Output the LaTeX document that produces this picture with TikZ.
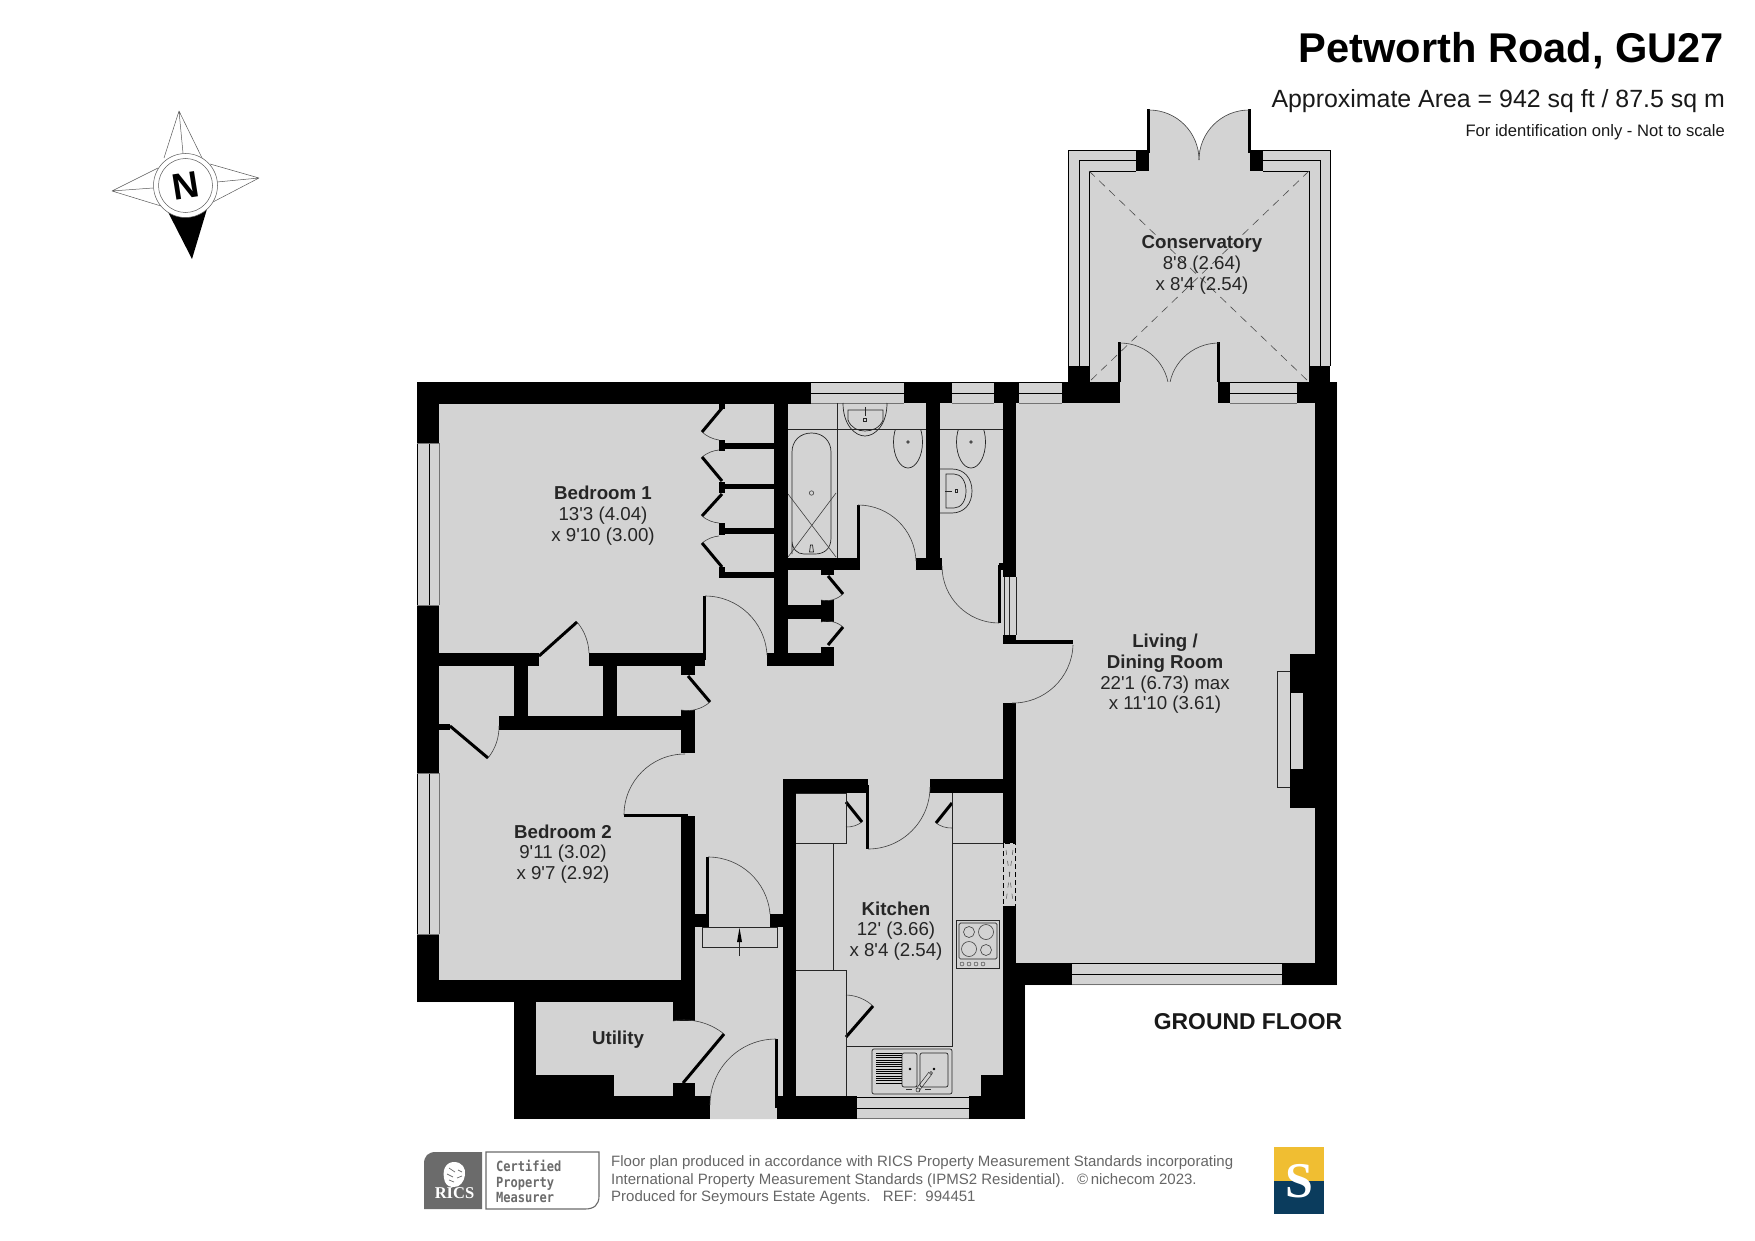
\documentclass[tikz,border=0pt]{standalone}
\usepackage{fontspec}
\setmainfont{Liberation Sans}[Ligatures=TeXOff]
\newfontfamily\monof{DejaVu Sans Mono}[FakeStretch=0.86]
\newfontfamily\seriff{Liberation Serif}
\definecolor{floorgrey}{HTML}{D3D3D3}
\definecolor{logogrey}{HTML}{6B6B6B}
\definecolor{notegrey}{HTML}{666666}
\definecolor{syellow}{HTML}{F0BE32}
\definecolor{snavy}{HTML}{0B3C5D}
\tikzset{
  wall/.style={fill=black},
  floorfill/.style={fill=floorgrey},
  leaf/.style={line width=3pt,black},
  swing/.style={line width=0.6pt,black!75},
  fit/.style={line width=0.7pt,black!85},
  glass/.style={line width=0.8pt,black},
  roomtext/.style={align=center,inner sep=0pt,font=\fontsize{18.7}{20.7}\selectfont,text=black!85},
  star/.style={line width=0.5pt,black!65},
  note/.style={anchor=base west,inner sep=0pt,font=\fontsize{15}{17}\selectfont,text=notegrey},
  certtext/.style={anchor=base west,inner sep=0pt,font=\monof\bfseries\fontsize{14}{16}\selectfont,text=logogrey}
}
\newcommand\wl[4]{\fill[wall] (#1,#2) rectangle (#3,#4);}
\newcommand\winh[3]{% x1 x2 y1 (height 22)
  \fill[floorfill] (#1,#3) rectangle (#2,#3+21);
  \draw[glass] (#1,#3) -- (#2,#3) (#1,#3+11) -- (#2,#3+11);
  \draw[line width=0.5pt,black!55] (#1,#3+21) -- (#2,#3+21);}
\newcommand\winv[2]{% y1 y2 on the west wall
  \fill[floorfill] (417,#1) rectangle (439,#2);
  \draw[glass] (417,#1) -- (417,#2) (429,#1) -- (429,#2);
  \draw[line width=0.5pt,black!55] (439,#1) -- (439,#2) (417,#1) -- (439,#1) (417,#2) -- (439,#2);}
\newcommand\swingarc[6]{%
  \pgfmathsetmacro\sgax{#1-#5}\pgfmathsetmacro\sgay{#2-#6}%
  \pgfmathsetmacro\sgbx{#3-#5}\pgfmathsetmacro\sgby{#4-#6}%
  \pgfmathsetmacro\sgct{(\sgax*\sgbx+\sgay*\sgby)/(sqrt(\sgax*\sgax+\sgay*\sgay)*sqrt(\sgbx*\sgbx+\sgby*\sgby))}%
  \pgfmathsetmacro\sgang{acos(min(0.99,\sgct))}%
  \pgfmathsetmacro\sgk{4/3*tan(\sgang/4)/tan(\sgang/2)}%
  \pgfmathsetmacro\sgqx{#5+(\sgax+\sgbx)/(1+\sgct)}%
  \pgfmathsetmacro\sgqy{#6+(\sgay+\sgby)/(1+\sgct)}%
  \draw[swing] (#1,#2) .. controls ({#1+\sgk*(\sgqx-(#1))},{#2+\sgk*(\sgqy-(#2))}) and ({#3+\sgk*(\sgqx-(#3))},{#4+\sgk*(\sgqy-(#4))}) .. (#3,#4);}
\begin{document}
\begin{tikzpicture}[x=1pt,y=-1pt]
\useasboundingbox (0,0) rectangle (1755,1241);
\fill[white] (0,0) rectangle (1755,1241);
% ---------- conservatory
\fill[floorfill] (1068,150) rectangle (1330,382);
\fill[floorfill] (1149,110) .. controls (1177,110) and (1199,132) .. (1199,160) .. controls (1199,132) and (1221,110) .. (1249,110) -- (1249,171) -- (1149,171) -- cycle;
\draw[glass] (1068,366) -- (1068,150) -- (1136,150) (1263,150) -- (1330,150) -- (1330,366);
\draw[glass] (1079,366) -- (1079,160) -- (1136,160) (1263,160) -- (1320,160) -- (1320,366);
\draw[glass] (1089,382) -- (1089,171) -- (1136,171) (1263,171) -- (1309,171) -- (1309,382);
\draw[line width=0.6pt,black!70,dash pattern=on 8pt off 6pt] (1089,171) -- (1309,382);
\draw[line width=0.6pt,black!70,dash pattern=on 8pt off 6pt] (1309,171) -- (1089,382);
\wl{1068}{366}{1090}{383}\wl{1309}{366}{1330}{383}
\wl{1136}{150}{1149}{171}\wl{1250}{150}{1263}{171}
\wl{1147}{109}{1150}{153}\wl{1248}{109}{1251}{153}
\swingarc{1149}{110}{1199}{160}{1149}{160}
\swingarc{1249}{110}{1199}{160}{1249}{160}
\wl{1118}{342}{1121}{385}\wl{1217}{342}{1220}{385}
\swingarc{1120}{343}{1169}{392}{1120}{392}
\swingarc{1219}{343}{1169}{392}{1219}{392}
% ---------- main floor silhouette
\fill[floorfill] (417,382) -- (1337,382) -- (1337,985) -- (1025,985) -- (1025,1119) -- (514,1119) -- (514,1002) -- (417,1002) -- cycle;
% ---------- walls
\wl{417}{382}{811}{404}\wl{904}{382}{952}{403}\wl{994}{382}{1019}{403}
\wl{1062}{382}{1120}{403}\wl{1218}{382}{1230}{403}\wl{1297}{382}{1337}{403}
\wl{417}{382}{439}{1002}\wl{417}{980}{695}{1002}
\wl{1315}{382}{1337}{985}\wl{1290}{654}{1315}{808}
\wl{1003}{963}{1072}{985}\wl{1282}{963}{1337}{985}
\wl{1003}{985}{1025}{1119}
\wl{1003}{403}{1016}{577}\wl{1003}{635}{1016}{644}\wl{1003}{703}{1016}{843}\wl{1003}{906}{1016}{985}
\wl{1016}{640}{1073}{644}
\wl{999}{563}{1003}{570}
% bathroom and WC
\wl{774}{403}{788}{666}\wl{788}{558}{859}{570}\wl{857}{505}{860}{570}
\wl{916}{558}{942}{570}\wl{926}{403}{940}{558}
\wl{997.5}{565}{1000.5}{623}
% hall cupboards
\wl{767}{653}{834}{666}\wl{821}{570}{834}{575}\wl{821}{600}{834}{622}\wl{788}{605}{821}{619}\wl{821}{647}{834}{653}
% wardrobes
\wl{719}{443}{774}{449}\wl{719}{484}{774}{489}\wl{719}{528}{774}{534}\wl{719}{572}{774}{578}
\wl{719}{404}{725}{409}\wl{719}{440}{725}{451}\wl{719}{482}{725}{493}\wl{719}{523}{725}{535}\wl{719}{567}{725}{578}
% bedroom 1 south wall and cupboards
\wl{439}{653}{539}{666}\wl{589}{653}{705}{666}
\wl{514}{666}{528}{730}\wl{603}{666}{617}{730}\wl{499}{716}{695}{730}
\wl{681}{666}{695}{675}\wl{703}{596}{706}{660}\wl{681}{710}{695}{753}
\wl{439}{724}{450}{730}\wl{499}{724}{514}{730}
% bedroom 2 east wall
\wl{681}{816}{695}{1002}\wl{624}{813.5}{688}{817}
% inner porch
\wl{695}{914}{709}{927}\wl{770}{914}{783}{927}\wl{706}{857}{709}{925}
% kitchen
\wl{783}{779}{796}{1119}\wl{783}{779}{868}{793}\wl{866}{785}{869}{849}\wl{930}{779}{1003}{793}
\wl{777}{1096}{857}{1119}\wl{969}{1096}{1025}{1119}\wl{981}{1075}{1003}{1096}\wl{775}{1039}{778}{1108}
% utility
\wl{514}{1002}{536}{1119}\wl{514}{1096}{710}{1119}\wl{514}{1075}{614}{1096}
\wl{673}{980}{695}{1021}\wl{673}{1083}{695}{1096}
% ---------- windows
\winh{811}{904}{382}\winh{952}{994}{382}\winh{1019}{1062}{382}\winh{1230}{1297}{382}
\winh{857}{969}{1097}\winh{1072}{1282}{963}
\winv{443}{605}\winv{773}{934}
% strip window by the hall
\fill[floorfill] (1004,577) rectangle (1016,635);
\draw[fit] (1004,577) -- (1004,635) (1009.5,577) -- (1009.5,635) (1016,577) -- (1016,635);
% vent
\fill[floorfill] (1003,843) rectangle (1016,906);
\draw[line width=0.6pt,black,dash pattern=on 5pt off 3pt] (1003.5,843) rectangle (1015.5,906);
\draw[line width=0.5pt,black!70,dash pattern=on 5pt off 6pt] (1006,850) -- (1009.5,875) -- (1006,902) (1013,850) -- (1009.5,875) -- (1013,902);
% fireplace
\fill[floorfill] (1291,693) rectangle (1303,769);
\draw[fit] (1290,671) -- (1277,671) -- (1277,787) -- (1290,787);
% ---------- door leaves
\draw[leaf] (722,408) -- (702,432); \swingarc{702}{432}{719}{440}{722}{408}
\draw[leaf] (722,481) -- (702,457); \swingarc{702}{457}{719}{450}{722}{481}
\draw[leaf] (722,494) -- (702,516); \swingarc{702}{516}{719}{523}{722}{494}
\draw[leaf] (722,567) -- (702,543); \swingarc{702}{543}{719}{536}{722}{567}
\draw[leaf] (828,576) -- (843,594); \swingarc{843}{594}{821}{600}{828}{576}
\draw[leaf] (828,645) -- (843,627); \swingarc{843}{627}{821}{622}{828}{645}
\draw[leaf] (539,656) -- (577,622); \swingarc{577}{622}{589}{653}{539}{656}
\draw[leaf] (688,676) -- (710,702); \swingarc{710}{702}{681}{710}{688}{676}
\draw[leaf] (450,726) -- (488,758); \swingarc{488}{758}{499}{726}{450}{726}
\draw[leaf] (683,1083) -- (724,1034); \swingarc{724}{1034}{673}{1021}{683}{1083}
\draw[leaf] (846,802) -- (862,822); \swingarc{862}{822}{846}{827}{846}{802}
\draw[leaf] (952,803) -- (936,823); \swingarc{936}{823}{952}{828}{952}{803}
\draw[leaf] (846,1037) -- (873,1006); \swingarc{873}{1006}{846}{995}{846}{1037}
\swingarc{705}{596}{767}{655}{705}{658}
\swingarc{685}{754}{624}{815}{685}{815}
\swingarc{858}{505}{916}{561}{858}{563}
\swingarc{942}{566}{999}{623}{999}{566}
\swingarc{1073}{645}{1012}{703}{1013}{643}
\swingarc{708}{857}{770}{914}{708}{919}
\swingarc{776}{1039}{710}{1105}{776}{1105}
\swingarc{930}{787}{868}{849}{868}{787}
% ---------- bathroom fittings
\draw[fit] (788,429) -- (926,429) (940,429) -- (1003,429) (837,403) -- (837,558);
\draw[fit] (792,554) -- (792,452) .. controls (792,441) and (800,433) .. (811.5,433) .. controls (823,433) and (831,441) .. (831,452) -- (831,538) .. controls (831,549) and (824,554) .. (815,554) -- (804,554) .. controls (797,554) and (792,549) .. (792,540);
\draw[swing] (811.5,493) circle (2.2);
\draw[swing] (788,494) -- (836,557) (836,493) -- (788,557);
\draw[fit] (809.5,552) -- (810.5,545) -- (812.5,545) -- (813.5,552) -- cycle;
\draw[fit] (843,403) .. controls (843,425) and (855,436) .. (865,436) .. controls (875,436) and (887,425) .. (887,403);
\draw[fit] (848,410) -- (883,410) -- (883,420) .. controls (880,428) and (872,431) .. (865,431) .. controls (858,431) and (851,428) .. (848,420) -- cycle;
\draw[fit] (865,407) -- (865,416);
\draw[fit,fill=floorgrey] (863.7,418.7) rectangle (866.3,421.3);
\begin{scope}
\clip (880,429) rectangle (1000,475);
\draw[fit] (908,442) ellipse (14.5 and 26);
\draw[fit] (971,442) ellipse (14.5 and 26);
\end{scope}
\fill[black!70] (908,442) circle (1.8) (971,442) circle (1.8);
\draw[fit] (940,469) -- (952,469) .. controls (964,469) and (972,478) .. (972,491) .. controls (972,504) and (964,513) .. (952,513) -- (940,513);
\draw[fit] (946,474) -- (954,474) .. controls (961,474) and (966,481) .. (966,491) .. controls (966,501) and (961,508) .. (954,508) -- (946,508) -- cycle;
\draw[fit] (945,491) -- (952,491);
\draw[fit,fill=floorgrey] (955,489.5) rectangle (957.5,492.5);
% ---------- kitchen fittings
\draw[fit] (796,793) -- (846,793) -- (846,843) -- (796,843);
\draw[fit] (833,843) -- (833,970);
\draw[fit] (796,970) -- (846,970) -- (846,1096);
\draw[fit] (846,1046) -- (952,1046) -- (952,793);
\draw[fit] (952,843) -- (1003,843);
\draw[fit] (956,920) rectangle (999,968);
\draw[fit,rounded corners=1.5pt] (959,923) rectangle (997,959);
\draw[swing] (969,932) circle (5.5) (986,932) circle (7.5) (969,949) circle (7.5) (986,950) circle (5.5);
\foreach \kx in {962,969,976,983} \draw[line width=0.4pt,black!80] (\kx,964) circle (2);
\draw[fit,rounded corners=2pt] (872,1049) rectangle (952,1094);
\draw[fit,rounded corners=2pt] (902,1053) rectangle (917,1087);
\draw[fit,rounded corners=2pt] (920,1053) rectangle (948,1087);
\foreach \dy in {1053,1055.3,...,1084.5} \draw[line width=0.7pt,black] (876,\dy) -- (902,\dy);
\fill[black] (910,1069) circle (1.3) (934,1069) circle (1.3);
\draw[line width=0.5pt,black!85] (916,1089) -- (929,1072) (919,1091) -- (932,1074);
\draw[line width=0.5pt,black!85] (918,1090) circle (2) (931,1073) circle (1.5);
\draw[line width=0.4pt,black!80] (906,1089) -- (912,1089) (925,1089) -- (931,1089);
% arrow at the porch
\draw[fit] (702,927) -- (702,947) -- (777,947) -- (777,927) -- cycle;
\coordinate (arrowfoot) at (739.5,956);
\coordinate (arrowhead) at (739.5,928);
\draw[fit] (arrowfoot) -- (739.5,938);
\fill[black] (arrowhead) -- (742,942) -- (737,942) -- cycle;
% ---------- room labels
\node[roomtext] (bed1) at (603,515.5) {\textbf{Bedroom 1}\\13'3 (4.04)\\x 9'10 (3.00)};
\node[roomtext] (bed2) at (563,854) {\textbf{Bedroom 2}\\9'11 (3.02)\\x 9'7 (2.92)};
\node[roomtext] (util) at (618,1040) {\textbf{Utility}};
\node[roomtext] (kitch) at (896,931) {\textbf{Kitchen}\\12' (3.66)\\x 8'4 (2.54)};
\node[roomtext] (cons) at (1202,265) {\textbf{Conservatory}\\8'8 (2.64)\\x 8'4 (2.54)};
\node[roomtext] (living) at (1165,674) {\textbf{Living /}\\\textbf{Dining Room}\\22'1 (6.73) max\\x 11'10 (3.61)};
\node[anchor=center,inner sep=0pt,font=\bfseries\fontsize{22.9}{26}\selectfont,text=black!90] (gf) at (1248,1022) {GROUND FLOOR};
% ---------- heading
\node[anchor=base east,inner sep=0pt,font=\bfseries\fontsize{41.6}{46}\selectfont] (title) at (1724,63) {Petworth Road, GU27};
\node[anchor=base east,inner sep=0pt,font=\fontsize{24.9}{28}\selectfont,text=black!90] (area) at (1725,108) {Approximate Area = 942 sq ft / 87.5 sq m};
\node[anchor=base east,inner sep=0pt,font=\fontsize{16.6}{19}\selectfont,text=black!90] (ident) at (1725,137) {For identification only - Not to scale};
% ---------- compass
\fill[black] (168,212) -- (192,259) -- (207,209) -- cycle;
\draw[star] (179,111) -- (164,158) (179,111) -- (183,153) (179,111) -- (203,160);
\draw[star] (259,178) -- (210,164) (259,178) -- (217,182) (259,178) -- (213,202);
\draw[star] (112,191) -- (158,168) (112,191) -- (153,188) (112,191) -- (161,206);
\fill[white] (185.5,185.5) circle (32);
\draw[star] (185.5,185.5) circle (32) (185.5,185.5) circle (27);
\node[inner sep=0pt,rotate=9,font=\bfseries\fontsize{37}{40}\selectfont] (north) at (185.5,185.5) {N};
% ---------- RICS mark
\fill[logogrey] (424,1209) -- (424,1164) .. controls (424,1156) and (428,1152) .. (436,1152) -- (482,1152) -- (482,1209) -- cycle;
\fill[white] (445,1182) .. controls (441,1170) and (446,1162) .. (454,1162) .. controls (462,1162) and (466,1168) .. (465,1175) .. controls (464,1182) and (460,1187) .. (454,1187) .. controls (450,1187) and (447,1186) .. (445,1182) -- cycle;
\draw[logogrey,line width=0.7pt] (449,1168) -- (455,1172) (447,1174) -- (453,1177) (449,1180) -- (454,1182) (458,1170) -- (462,1172) (457,1178) -- (462,1176);
\node[anchor=base,inner sep=0pt,text=white,font=\seriff\bfseries\fontsize{16.5}{18}\selectfont] (rics) at (454.5,1198) {RICS};
\draw[logogrey,line width=1.1pt] (486,1152) -- (599,1152) -- (599,1196) .. controls (599,1205) and (594,1209) .. (585,1209) -- (486,1209) -- cycle;
\node[certtext] (cert1) at (496,1171) {Certified};
\node[certtext] (cert2) at (496,1187) {Property};
\node[certtext] (cert3) at (496,1202) {Measurer};
% ---------- note
\node[note] (note1) at (611,1166) {Floor plan produced in accordance with RICS Property Measurement Standards incorporating};
\node[note] (note2) at (611,1184) {International Property Measurement Standards (IPMS2 Residential).\ \ \ ©\,nichecom 2023.};
\node[note] (note3) at (611,1201) {Produced for Seymours Estate Agents.\ \ \ REF:\ \ 994451};
% ---------- S mark
\fill[syellow] (1274,1147) rectangle (1324,1181);
\fill[snavy] (1274,1181) rectangle (1324,1214);
\node[inner sep=0pt,text=white,font=\seriff\bfseries\fontsize{50}{56}\selectfont] (smark) at (1299,1181) {S};
\end{tikzpicture}
\end{document}
